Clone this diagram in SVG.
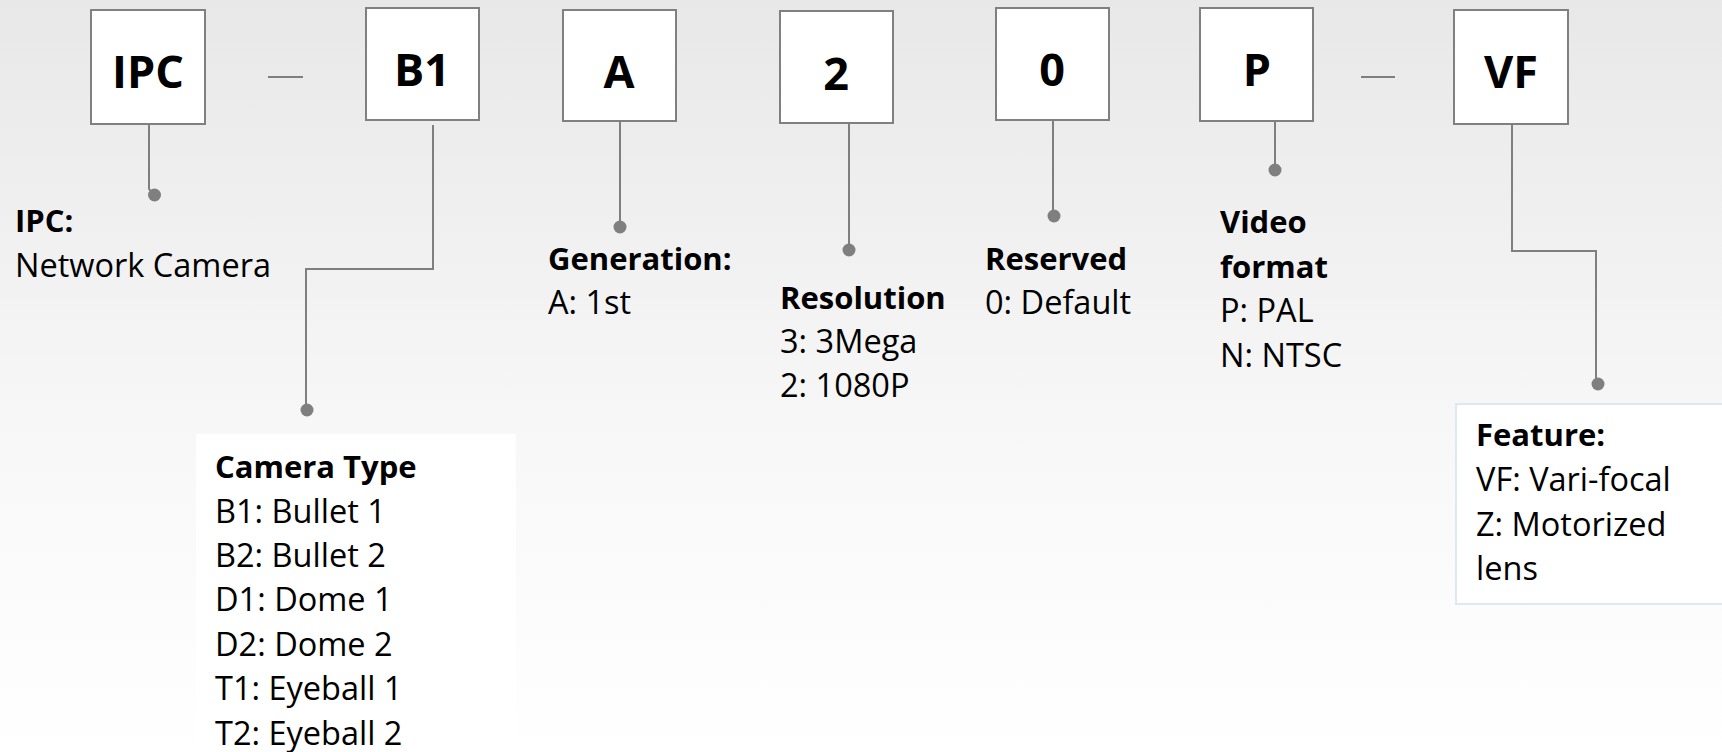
<svg xmlns="http://www.w3.org/2000/svg" width="1722" height="752" viewBox="0 0 1722 752">
<defs>
<linearGradient id="bg" x1="0" y1="0" x2="0" y2="1">
<stop offset="0" stop-color="#e8e8e8"/>
<stop offset="0.6" stop-color="#f8f8f8"/>
<stop offset="1" stop-color="#ffffff"/>
</linearGradient>
<style>
.box{fill:#ffffff;stroke:#808080;stroke-width:2}
.code{font-family:"Open Sans","Liberation Sans",sans-serif;font-weight:bold;font-size:45px;fill:#000;text-anchor:middle}
.t{font-family:"Open Sans","Liberation Sans",sans-serif;font-size:32.5px;fill:#000}
.b{font-weight:bold;font-size:31px}
.ln{fill:none;stroke:#7f7f7f;stroke-width:2}
.dot{fill:#7f7f7f}
</style>
</defs>
<rect width="1722" height="752" fill="url(#bg)"/>
<rect x="196" y="434" width="320" height="330" fill="#ffffff"/>
<rect x="1456" y="404" width="280" height="200" fill="#ffffff" stroke="#dde8f3" stroke-width="2"/>

<g id="connectors">
<line class="ln" x1="268" y1="77" x2="303" y2="77"/>
<line class="ln" x1="1361" y1="77" x2="1395" y2="77"/>
<path class="ln" d="M149 124 V189 L154 195"/>
<circle class="dot" cx="154.5" cy="195" r="6.5"/>
<path class="ln" d="M433 125 V269 H306 V410"/>
<circle class="dot" cx="307" cy="410" r="6.5"/>
<path class="ln" d="M620 119 V227"/>
<circle class="dot" cx="620" cy="227" r="6.5"/>
<path class="ln" d="M849 124 V250"/>
<circle class="dot" cx="849" cy="250" r="6.5"/>
<path class="ln" d="M1053 121 V216"/>
<circle class="dot" cx="1054" cy="216" r="6.5"/>
<path class="ln" d="M1275 121 V170"/>
<circle class="dot" cx="1275" cy="170" r="6.5"/>
<path class="ln" d="M1512 124 V251 H1596 V384"/>
<circle class="dot" cx="1598" cy="384" r="6.5"/>
</g>

<g id="node-ipc">
<rect class="box" x="91" y="10" width="114" height="114"/>
<text class="code" x="148" y="88">IPC</text>
<text class="t b" x="15" y="232">IPC:</text>
<text class="t" x="15" y="277">Network Camera</text>
</g>
<g id="node-b1">
<rect class="box" x="366" y="8" width="113" height="112"/>
<text class="code" x="422" y="86">B1</text>
<text class="t b" x="215" y="478">Camera Type</text>
<text class="t" x="215" y="523">B1: Bullet 1</text>
<text class="t" x="215" y="567">B2: Bullet 2</text>
<text class="t" x="215" y="611">D1: Dome 1</text>
<text class="t" x="215" y="656">D2: Dome 2</text>
<text class="t" x="215" y="700">T1: Eyeball 1</text>
<text class="t" x="215" y="745">T2: Eyeball 2</text>
</g>
<g id="node-a">
<rect class="box" x="563" y="10" width="113" height="111"/>
<text class="code" x="619" y="88">A</text>
<text class="t b" x="548" y="270">Generation:</text>
<text class="t" x="548" y="314">A: 1st</text>
</g>
<g id="node-2">
<rect class="box" x="780" y="11" width="113" height="112"/>
<text class="code" x="836" y="90">2</text>
<text class="t b" x="780" y="309">Resolution</text>
<text class="t" x="780" y="353">3: 3Mega</text>
<text class="t" x="780" y="397">2: 1080P</text>
</g>
<g id="node-0">
<rect class="box" x="996" y="8" width="113" height="112"/>
<text class="code" x="1052" y="86">0</text>
<text class="t b" x="985" y="270">Reserved</text>
<text class="t" x="985" y="314">0: Default</text>
</g>
<g id="node-p">
<rect class="box" x="1200" y="8" width="113" height="113"/>
<text class="code" x="1257" y="86">P</text>
<text class="t b" x="1220" y="233">Video</text>
<text class="t b" x="1220" y="278">format</text>
<text class="t" x="1220" y="322">P: PAL</text>
<text class="t" x="1220" y="367">N: NTSC</text>
</g>
<g id="node-vf">
<rect class="box" x="1454" y="10" width="114" height="114"/>
<text class="code" x="1511" y="88">VF</text>
<text class="t b" x="1476" y="446">Feature:</text>
<text class="t" x="1476" y="491">VF: Vari-focal</text>
<text class="t" x="1476" y="536">Z: Motorized</text>
<text class="t" x="1476" y="580">lens</text>
</g>
</svg>
